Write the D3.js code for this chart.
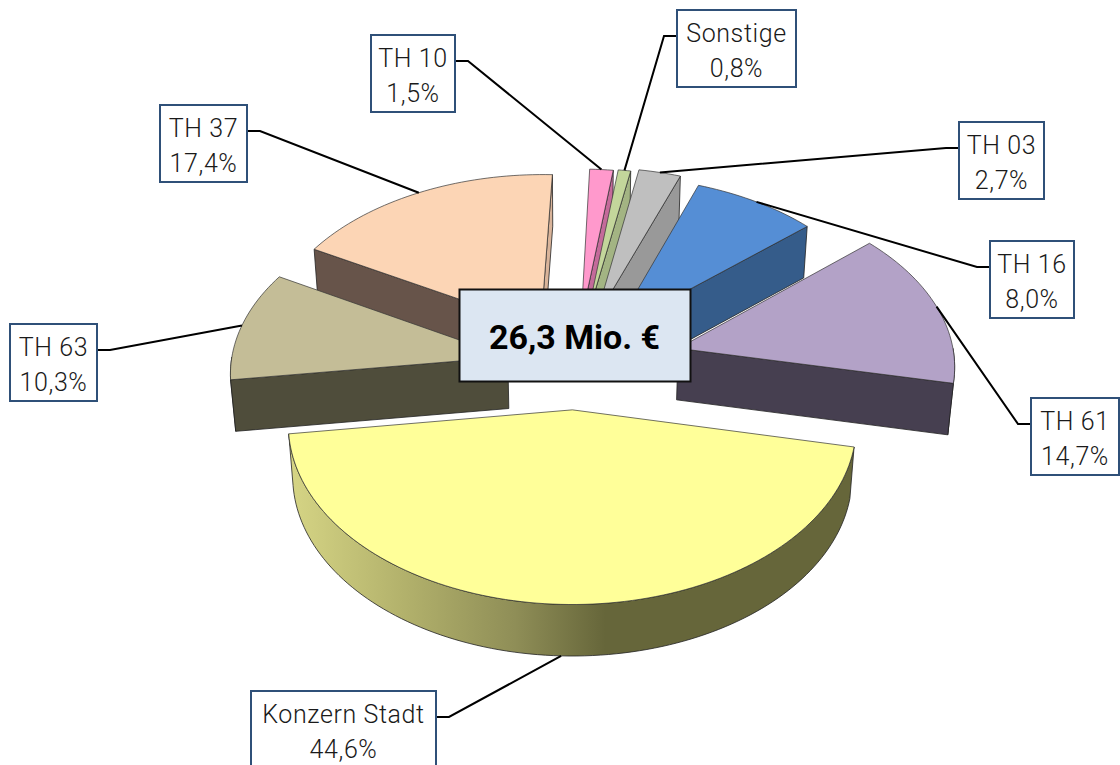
<!DOCTYPE html>
<html><head><meta charset="utf-8">
<script src="https://cdnjs.cloudflare.com/ajax/libs/d3/7.8.5/d3.min.js"></script>
<style>html,body{margin:0;padding:0;background:#fff;overflow:hidden}</style>
</head><body><svg id="c" width="1120" height="765"></svg>
<script>
const categories = ["Konzern Stadt","TH 63","TH 37","TH 10","Sonstige","TH 03","TH 16","TH 61"];
const shares     = [44.6,10.3,17.4,1.5,0.8,2.7,8.0,14.7];
const topColors  = ["#ffff99","#c4bd97","#fcd5b5","#ff99cc","#c3d69b","#bfbfbf","#558ed5","#b3a2c7"];
const wallColors = ["#66663a","#4f4d3b","#67544a","#c46a9a","#a3b483","#999999","#355c8a","#463f50"];
const rightWallColors = ["#66663a","#4f4d3b","#d9b49a","#c46a9a","#a3b483","#999999","#355c8a","#463f50"];
const explosion  = [0.257,0.248,0.258,0.265,0.27,0.285,0.255,0.388];
const labelBoxes = [[251,691,185,77],[10,324,87,77],[160,105,87,77],[371,35,84,77],[677,10,119,77],[959,122,85,77],[990,241,84,77],[1031,398,88,77]];
const centerText = "26,3 Mio. €";

const cx=575, cy=365, A=171, B=277, P=0.0817, DEPTH=51.5, NARROW=0.985;
const rad=d=>d*Math.PI/180;
const START=rad(101.8);

const arcs = d3.pie().sort(null).value(d=>d).startAngle(START).endAngle(START+2*Math.PI)(shares)
  .map((a,i)=>({...a,i,mid:(a.startAngle+a.endAngle)/2,e:explosion[i]}));

function pt(s,angle,r,low){
  const X=s.e*Math.sin(s.mid)+r*Math.sin(angle), Y=s.e*Math.cos(s.mid)+r*Math.cos(angle);
  const w=1+P*Y;
  const sx=B*X/w, sy=-A*Y/w;
  return low?[cx+sx*NARROW,cy+sy+DEPTH]:[cx+sx,cy+sy];
}
const line=d3.line();
const svg=d3.select("#c");
const defs=svg.append("defs");
const g=defs.append("linearGradient").attr("id","kz");
[[0,"#d6d585"],[0.2,"#b3b26c"],[0.4,"#8f8e57"],[0.56,"#66663a"],[1,"#66663a"]].forEach(s=>g.append("stop").attr("offset",s[0]).attr("stop-color",s[1]));

let arcCur=null;
function arcPts(a0,a1,low){
  const n=Math.max(4,Math.ceil(Math.abs(a1-a0)/rad(1.5)));
  return d3.range(n+1).map(k=>pt(arcCur,a0+(a1-a0)*k/n,1,low));
}
const order=[...arcs].sort((a,b)=>Math.cos(b.mid)*(1+b.e)-Math.cos(a.mid)*(1+a.e));
const pie=svg.append("g");
function draw(parent,pts,fill,stroke,sw){
  return parent.append("path").attr("d",line(pts)+"Z").attr("fill",fill)
    .attr("stroke",stroke||"#222").attr("stroke-width",sw||0.8).attr("stroke-linejoin","round");
}
order.forEach(s=>{
  arcCur=s;
  const gs=pie.append("g");
  const apex=pt(s,0,0,false), apexL=pt(s,0,0,true);
  // outer wall: only the part of the rim turned to the viewer
  const lo=Math.max(s.startAngle,rad(90)), hi=Math.min(s.endAngle,rad(270));
  const lo2=Math.max(s.startAngle,rad(450)), hi2=Math.min(s.endAngle,rad(630));
  [[lo,hi],[lo2,hi2]].forEach(([u,v])=>{
    if(v>u) draw(gs,arcPts(u,v,false).concat(arcPts(v,u,true)),s.i===0?"url(#kz)":wallColors[s.i]);
  });
  // radial walls: only those turned to the viewer
  if(Math.sin(s.startAngle)<0) draw(gs,[apex,pt(s,s.startAngle,1,false),pt(s,s.startAngle,1,true),apexL],wallColors[s.i]);
  if(Math.sin(s.endAngle)>0) draw(gs,[apex,pt(s,s.endAngle,1,false),pt(s,s.endAngle,1,true),apexL],rightWallColors[s.i]);
  draw(gs,[apex].concat(arcPts(s.startAngle,s.endAngle,false)),topColors[s.i],"#333",0.7);
});

// leaders
const labels=svg.append("g");
arcs.forEach(s=>{
  const b=labelBoxes[s.i];
  arcCur=s;
  const anchor=pt(s,s.mid,1,s.i===0);
  const left=anchor[0]<b[0];
  const y=b[1]+26;
  const x0=left?b[0]:b[0]+b[2];
  const x1=x0+(left?-13:13);
  labels.append("path").attr("d",line([[x0,y],[x1,y],anchor])).attr("fill","none").attr("stroke","#000").attr("stroke-width",2);
});
arcs.forEach(s=>{
  const b=labelBoxes[s.i];
  labels.append("rect").attr("x",b[0]).attr("y",b[1]).attr("width",b[2]).attr("height",b[3]).attr("fill","#fff").attr("stroke","#2f5078").attr("stroke-width",2);
  const t=labels.append("text").attr("text-anchor","middle").attr("font-family","Roboto").attr("font-weight",350).attr("font-size",25).attr("letter-spacing",0.6).attr("fill","#1a1a1a");
  const mx=b[0]+b[2]/2;
  t.append("tspan").attr("x",mx).attr("y",b[1]+32).text(categories[s.i]);
  t.append("tspan").attr("x",mx).attr("y",b[1]+67).text(d3.format(".1f")(shares[s.i]).replace(".",",")+"%");
});
svg.append("rect").attr("x",459.5).attr("y",289.5).attr("width",231).attr("height",92).attr("fill","#dce6f2").attr("stroke","#111").attr("stroke-width",2);
svg.append("text").attr("x",574.5).attr("y",349).attr("text-anchor","middle").attr("font-family","Roboto").attr("font-weight",700).attr("font-size",34).attr("fill","#000").text(centerText);
</script></body></html>
